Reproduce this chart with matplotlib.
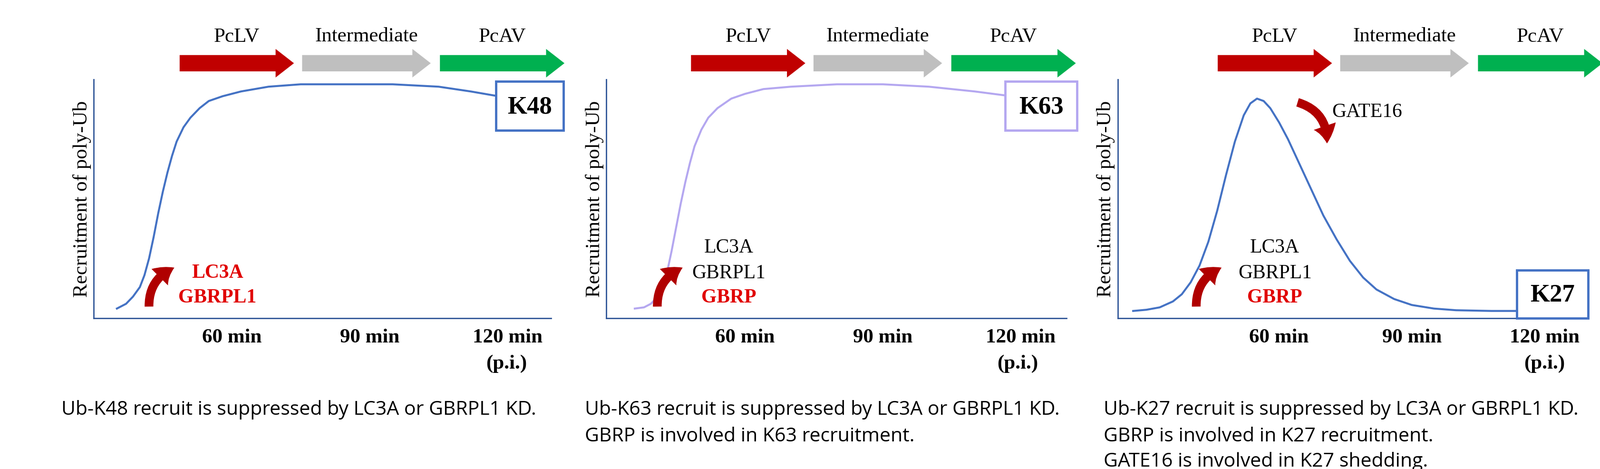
import matplotlib
matplotlib.use("Agg")
import matplotlib.pyplot as plt
from matplotlib.patches import FancyArrowPatch, Rectangle

W, H = 1568, 460  # layout units (reference at reduced scale)

# ---- data ----
k48_t = [35, 37, 38.5, 40, 41, 42, 43, 44, 45, 46, 47, 48, 49.5, 51, 53, 55, 58, 62, 68, 75, 85,
         95, 105, 112, 118, 122]
k48_v = [4, 6, 9, 13, 18, 25, 34, 44, 53, 61, 68, 74, 80, 84, 88, 91, 93, 95, 97, 98, 98,
         98, 97, 95, 93, 92]
k63_t = [36, 38, 39.5, 41, 42, 43, 44, 45, 46, 47, 48, 49, 50.5, 52, 54, 57, 60, 64, 70, 80,
         90, 100, 110, 118, 122]
k63_v = [4, 4.5, 6, 9, 13, 19, 28, 38, 48, 57, 65, 72, 79, 84, 88, 92, 94, 96, 97, 98,
         98, 97, 95, 93, 92]
k27_t = [27, 30, 33, 36, 38, 40, 42, 44, 46, 48, 50, 52, 53.5, 55, 56.5, 58, 60, 62, 64, 66,
         68, 70, 73, 76, 79, 82, 86, 90, 95, 100, 108, 115, 120]
k27_v = [3, 3.5, 4.5, 7, 10, 15, 22, 32, 45, 60, 74, 85, 90, 92, 91, 88, 82, 75, 67, 59,
         51, 43, 33, 24, 17, 12, 8, 5.5, 4, 3.3, 3, 3, 4]
tick_vals = [60, 90, 120]
tick_labels = ["60 min", "90 min", "120 min"]
stages = ["PcLV", "Intermediate", "PcAV"]

BLUE = "#4472c4"
LAV = "#b4a7f0"
RED = "#c00000"
AX_C = "#2f5597"

fig = plt.figure(figsize=(33.66, 9.86), dpi=100)


def rect(x0, x1, y_top, y_bot):
    return [x0 / W, 1 - y_bot / H, (x1 - x0) / W, (y_bot - y_top) / H]


panels = [
    dict(box=(92, 540), xlim=(30, 129.5), t=k48_t, v=k48_v, c=BLUE),
    dict(box=(594, 1045), xlim=(29.8, 130), t=k63_t, v=k63_v, c=LAV),
    dict(box=(1095, 1550), xlim=(23.5, 128.5), t=k27_t, v=k27_v, c=BLUE),
]
for p in panels:
    ax = fig.add_axes(rect(p["box"][0], p["box"][1], 78, 312))
    ax.plot(p["t"], p["v"], color=p["c"], lw=3, solid_joinstyle="round")
    ax.set_xlim(*p["xlim"])
    ax.set_ylim(0, 100)
    ax.set_xticks(tick_vals)
    ax.set_xticklabels(tick_labels, family="Liberation Serif", weight="bold", fontsize=31)
    ax.tick_params(axis="x", length=0, pad=16)
    ax.set_yticks([])
    for s in ("top", "right"):
        ax.spines[s].set_visible(False)
    for s in ("left", "bottom"):
        ax.spines[s].set_color(AX_C)
        ax.spines[s].set_linewidth(2)
    ax.set_ylabel("Recruitment of poly-Ub", family="Liberation Serif", fontsize=31, labelpad=4)

# overlay for annotations
ov = fig.add_axes([0, 0, 1, 1])
ov.set_xlim(0, W)
ov.set_ylim(H, 0)
ov.axis("off")

serif = dict(family="Liberation Serif")
for x0 in (176, 677, 1193):
    xs = [(x0, x0 + 112), (x0 + 120, x0 + 246), (x0 + 255, x0 + 377)]
    for (a, b), name, col in zip(xs, stages, [RED, "#bfbfbf", "#00b050"]):
        ov.arrow(a, 62, b - a, 0, width=16, head_width=28, head_length=18,
                 length_includes_head=True, color=col, lw=0)
        ov.text((a + b) / 2, 36, name, ha="center", va="center", fontsize=31, **serif)
    ov.text(x0 + 320, 357, "(p.i.)", ha="center", va="center", fontsize=31, weight="bold", **serif)

# K boxes
for (x0, y0, x1, y1), lab, col in [((486, 80, 552, 128), "K48", BLUE),
                                   ((985, 80, 1055, 128), "K63", LAV),
                                   ((1486, 265, 1556, 312), "K27", BLUE)]:
    ov.add_patch(Rectangle((x0, y0), x1 - x0, y1 - y0, fill=True, fc="white", ec=col, lw=3.5))
    ov.text((x0 + x1) / 2, (y0 + y1) / 2 + 1, lab, ha="center", va="center",
            fontsize=38, weight="bold", **serif)


def curved(p0, p1, rad):
    ov.add_patch(FancyArrowPatch(p0, p1, connectionstyle=f"arc3,rad={rad}",
                                 arrowstyle="simple,head_width=1.6,head_length=1.2,tail_width=0.6",
                                 mutation_scale=22, color="#b00000", lw=0))


for x0 in (150, 648, 1176):
    curved((x0 - 4, 302), (x0 + 22, 262), -0.35)
curved((1270, 100), (1300, 142), -0.4)
ov.text(1305, 110, "GATE16", va="center", fontsize=30, **serif)

ov.text(213, 268, "LC3A", ha="center", va="center", fontsize=30, weight="bold", color="#e00000", **serif)
ov.text(213, 292, "GBRPL1", ha="center", va="center", fontsize=30, weight="bold", color="#e00000", **serif)
for cx in (714, 1249):
    ov.text(cx, 243, "LC3A", ha="center", va="center", fontsize=30, **serif)
    ov.text(cx, 268, "GBRPL1", ha="center", va="center", fontsize=30, **serif)
    ov.text(cx, 292, "GBRP", ha="center", va="center", fontsize=30, weight="bold", color="#e00000", **serif)

sans = dict(family="Open Sans", fontsize=29.5, va="center")
ov.text(60, 402, "Ub-K48 recruit is suppressed by LC3A or GBRPL1 KD.", **sans)
ov.text(573, 402, "Ub-K63 recruit is suppressed by LC3A or GBRPL1 KD.", **sans)
ov.text(573, 428, "GBRP is involved in K63 recruitment.", **sans)
ov.text(1081, 402, "Ub-K27 recruit is suppressed by LC3A or GBRPL1 KD.", **sans)
ov.text(1081, 428, "GBRP is involved in K27 recruitment.", **sans)
ov.text(1081, 453, "GATE16 is involved in K27 shedding.", **sans)

fig.savefig("out.png", dpi=100)
